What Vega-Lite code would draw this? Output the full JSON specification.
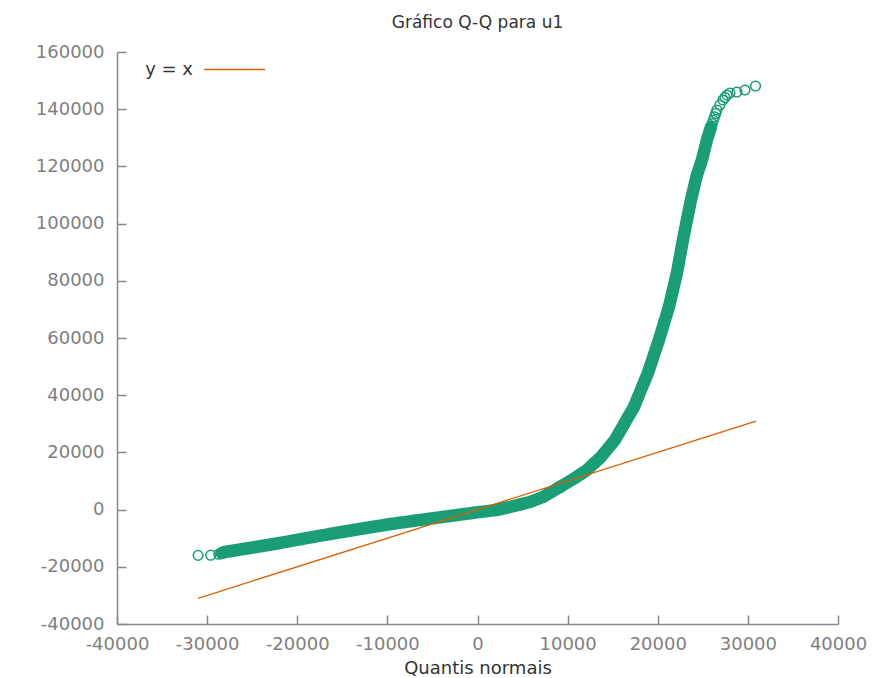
{
  "$schema": "https://vega.github.io/schema/vega-lite/v6.json",
  "width": 721,
  "height": 572,
  "autosize": {"type": "none"},
  "padding": {"left": 117, "top": 52, "right": 37, "bottom": 54},
  "background": "white",
  "title": {"text": "Gráfico Q-Q para u1", "font": "DejaVu Sans", "fontSize": 17, "fontWeight": "normal", "color": "#333333", "anchor": "middle", "frame": "group", "offset": 6},
  "config": {
    "view": {"stroke": null},
    "font": "DejaVu Sans",
    "axis": {
      "grid": false,
      "domainColor": "#888888",
      "domainWidth": 1.5,
      "tickColor": "#888888",
      "tickWidth": 1.5,
      "tickSize": -9,
      "labelColor": "#808080",
      "labelFont": "DejaVu Sans",
      "labelFontSize": 18,
      "labelFlush": false,
      "labelOverlap": false,
      "labelExpr": "'' + datum.value",
      "titleFont": "DejaVu Sans",
      "titleFontSize": 18,
      "titleFontWeight": "normal",
      "titleColor": "#333333"
    },
    "axisX": {"labelPadding": 20, "titlePadding": 6},
    "axisY": {"labelPadding": 22}
  },
  "datasets": {
    "qq": [
      {"q":-31000,"u":-16000},{"q":-29599,"u":-15950},{"q":-28711,"u":-15600},{"q":-28380,"u":-15200},{"q":-28045,"u":-14825},
      {"q":-27698,"u":-14650},{"q":-27351,"u":-14475},{"q":-27004,"u":-14300},{"q":-26657,"u":-14125},{"q":-26310,"u":-13950},{"q":-25964,"u":-13775},{"q":-25617,"u":-13600},{"q":-25270,"u":-13426},
      {"q":-24937,"u":-13251},{"q":-24604,"u":-13076},{"q":-24271,"u":-12901},{"q":-23938,"u":-12727},{"q":-23605,"u":-12552},{"q":-23272,"u":-12377},{"q":-22939,"u":-12202},{"q":-22606,"u":-12027},{"q":-22273,"u":-11853},{"q":-21940,"u":-11678},
      {"q":-21591,"u":-11478},{"q":-21242,"u":-11278},{"q":-20893,"u":-11078},{"q":-20544,"u":-10879},{"q":-20196,"u":-10679},{"q":-19847,"u":-10479},{"q":-19498,"u":-10280},
      {"q":-19153,"u":-10086},{"q":-18807,"u":-9892},{"q":-18462,"u":-9697},{"q":-18117,"u":-9503},{"q":-17772,"u":-9308},{"q":-17426,"u":-9114},{"q":-17081,"u":-8920},{"q":-16735,"u":-8725},{"q":-16390,"u":-8531},
      {"q":-16057,"u":-8356},{"q":-15724,"u":-8181},{"q":-15391,"u":-8006},{"q":-15058,"u":-7832},{"q":-14725,"u":-7657},{"q":-14392,"u":-7482},{"q":-14059,"u":-7307},{"q":-13726,"u":-7132},{"q":-13393,"u":-6958},{"q":-13060,"u":-6783},
      {"q":-12716,"u":-6608},{"q":-12372,"u":-6433},{"q":-12028,"u":-6258},{"q":-11684,"u":-6084},{"q":-11340,"u":-5909},{"q":-10995,"u":-5734},{"q":-10651,"u":-5559},{"q":-10307,"u":-5384},{"q":-9963,"u":-5210},{"q":-9619,"u":-5035},
      {"q":-9297,"u":-4895},{"q":-8975,"u":-4755},{"q":-8653,"u":-4615},{"q":-8331,"u":-4475},{"q":-8010,"u":-4335},{"q":-7688,"u":-4196},{"q":-7366,"u":-4056},{"q":-7044,"u":-3916},{"q":-6722,"u":-3776},{"q":-6400,"u":-3636},
      {"q":-6067,"u":-3496},{"q":-5734,"u":-3356},{"q":-5401,"u":-3216},{"q":-5068,"u":-3076},{"q":-4735,"u":-2937},{"q":-4402,"u":-2797},{"q":-4069,"u":-2657},{"q":-3736,"u":-2517},{"q":-3403,"u":-2377},{"q":-3070,"u":-2238},
      {"q":-2737,"u":-2098},{"q":-2404,"u":-1958},{"q":-2071,"u":-1818},{"q":-1738,"u":-1678},{"q":-1405,"u":-1538},{"q":-1072,"u":-1399},{"q":-739,"u":-1259},{"q":-406,"u":-1119},{"q":-73,"u":-979},{"q":260,"u":-839},
      {"q":575,"u":-722},{"q":889,"u":-606},{"q":1204,"u":-489},{"q":1518,"u":-373},{"q":1833,"u":-256},{"q":2147,"u":-140},
      {"q":2436,"u":70},{"q":2724,"u":280},{"q":3013,"u":489},{"q":3301,"u":699},{"q":3590,"u":909},
      {"q":3907,"u":1159},{"q":4224,"u":1409},{"q":4541,"u":1659},{"q":4859,"u":1908},{"q":5176,"u":2158},{"q":5493,"u":2408},{"q":5810,"u":2657},
      {"q":6099,"u":3007},{"q":6387,"u":3357},{"q":6676,"u":3706},{"q":6964,"u":4056},{"q":7253,"u":4406},
      {"q":7523,"u":4905},{"q":7792,"u":5405},{"q":8062,"u":5904},{"q":8331,"u":6403},{"q":8601,"u":6903},{"q":8870,"u":7403},{"q":9140,"u":7902},
      {"q":9418,"u":8427},{"q":9695,"u":8951},{"q":9973,"u":9476},{"q":10250,"u":10000},{"q":10528,"u":10525},{"q":10805,"u":11049},
      {"q":11071,"u":11608},{"q":11338,"u":12168},{"q":11604,"u":12727},{"q":11871,"u":13287},{"q":12137,"u":13846},
      {"q":12359,"u":14495},{"q":12581,"u":15145},{"q":12803,"u":15794},{"q":13025,"u":16444},{"q":13247,"u":17093},{"q":13469,"u":17743},{"q":13691,"u":18392},
      {"q":13885,"u":19135},{"q":14080,"u":19878},{"q":14274,"u":20621},{"q":14468,"u":21364},{"q":14662,"u":22107},{"q":14857,"u":22850},{"q":15051,"u":23593},{"q":15245,"u":24336},
      {"q":15407,"u":25224},{"q":15570,"u":26111},{"q":15732,"u":26999},{"q":15894,"u":27886},{"q":16056,"u":28774},{"q":16218,"u":29662},{"q":16381,"u":30549},{"q":16543,"u":31437},{"q":16705,"u":32324},{"q":16867,"u":33212},{"q":17030,"u":34099},{"q":17192,"u":34987},{"q":17354,"u":35874},
      {"q":17484,"u":36865},{"q":17613,"u":37856},{"q":17743,"u":38846},{"q":17872,"u":39837},{"q":18002,"u":40828},{"q":18131,"u":41819},{"q":18261,"u":42809},{"q":18390,"u":43800},{"q":18520,"u":44791},{"q":18649,"u":45782},{"q":18779,"u":46772},{"q":18908,"u":47762},
      {"q":19010,"u":48724},{"q":19112,"u":49685},{"q":19213,"u":50647},{"q":19315,"u":51608},{"q":19417,"u":52570},{"q":19519,"u":53532},{"q":19620,"u":54493},{"q":19722,"u":55455},{"q":19824,"u":56416},{"q":19926,"u":57378},{"q":20027,"u":58339},{"q":20129,"u":59301},
      {"q":20222,"u":60263},{"q":20314,"u":61224},{"q":20407,"u":62186},{"q":20499,"u":63147},{"q":20592,"u":64109},{"q":20684,"u":65070},{"q":20777,"u":66032},{"q":20869,"u":66993},{"q":20962,"u":67955},{"q":21054,"u":68916},{"q":21147,"u":69878},{"q":21239,"u":70839},
      {"q":21313,"u":71830},{"q":21387,"u":72821},{"q":21461,"u":73811},{"q":21535,"u":74802},{"q":21609,"u":75793},{"q":21683,"u":76784},{"q":21757,"u":77774},{"q":21831,"u":78765},{"q":21905,"u":79756},{"q":21979,"u":80746},{"q":22053,"u":81737},{"q":22127,"u":82727},
      {"q":22188,"u":83776},{"q":22248,"u":84825},{"q":22309,"u":85874},{"q":22369,"u":86923},{"q":22430,"u":87972},{"q":22490,"u":89021},{"q":22551,"u":90070},{"q":22611,"u":91119},{"q":22672,"u":92168},{"q":22732,"u":93217},{"q":22793,"u":94266},
      {"q":22856,"u":95265},{"q":22920,"u":96264},{"q":22983,"u":97263},{"q":23047,"u":98262},{"q":23110,"u":99261},{"q":23174,"u":100260},{"q":23237,"u":101259},{"q":23300,"u":102258},{"q":23364,"u":103257},{"q":23427,"u":104256},{"q":23491,"u":105255},{"q":23554,"u":106254},{"q":23618,"u":107253},{"q":23681,"u":108252},
      {"q":23755,"u":109223},{"q":23829,"u":110194},{"q":23903,"u":111165},{"q":23977,"u":112136},{"q":24051,"u":113108},{"q":24125,"u":114079},{"q":24199,"u":115050},{"q":24273,"u":116021},{"q":24347,"u":116993},
      {"q":24458,"u":118042},{"q":24569,"u":119091},{"q":24680,"u":120140},{"q":24791,"u":121189},{"q":24902,"u":122238},
      {"q":24995,"u":123403},{"q":25087,"u":124568},{"q":25180,"u":125734},{"q":25272,"u":126899},{"q":25365,"u":128065},{"q":25457,"u":129231},
      {"q":25568,"u":130367},{"q":25679,"u":131503},{"q":25790,"u":132640},{"q":25901,"u":133776},
      {"q":26034,"u":134965},{"q":26167,"u":136154},{"q":26301,"u":137342},{"q":26434,"u":138531},{"q":26567,"u":139720},
      {"q":26900,"u":141500},{"q":27233,"u":143217},{"q":27450,"u":144100},{"q":27677,"u":144965},{"q":28010,"u":145664},{"q":28787,"u":146014},{"q":29675,"u":146713},{"q":30850,"u":148112}
    ],
    "linha": [
      {"q": -31000, "u": -31000, "serie": "y = x"},
      {"q": 30900, "u": 30900, "serie": "y = x"}
    ]
  },
  "layer": [
    {
      "data": {"name": "qq"},
      "transform": [{"filter": {"field": "q", "range": [-28400, 26000]}}],
      "mark": {"type": "line", "strokeWidth": 12.5, "strokeCap": "round", "strokeJoin": "round", "color": "#1b9e77"},
      "encoding": {
        "x": {
          "field": "q", "type": "quantitative",
          "scale": {"domain": [-40000, 40000], "nice": false, "zero": false},
          "axis": {"title": "Quantis normais", "values": [-40000, -30000, -20000, -10000, 0, 10000, 20000, 30000, 40000]}
        },
        "y": {
          "field": "u", "type": "quantitative",
          "scale": {"domain": [-40000, 160000], "nice": false, "zero": false},
          "axis": {"title": null, "values": [-40000, -20000, 0, 20000, 40000, 60000, 80000, 100000, 120000, 140000, 160000]}
        }
      }
    },
    {
      "data": {"name": "qq"},
      "mark": {"type": "point", "shape": "circle", "filled": false, "size": 95, "strokeWidth": 1.5, "color": "#1b9e77", "opacity": 1},
      "encoding": {
        "x": {"field": "q", "type": "quantitative"},
        "y": {"field": "u", "type": "quantitative"}
      }
    },
    {
      "data": {"name": "linha"},
      "mark": {"type": "line", "strokeWidth": 1.3},
      "encoding": {
        "x": {"field": "q", "type": "quantitative"},
        "y": {"field": "u", "type": "quantitative"},
        "color": {
          "field": "serie", "type": "nominal",
          "scale": {"domain": ["y = x"], "range": ["#d95f02"]},
          "legend": {"orient": "none", "legendX": 86, "legendY": -14, "title": null, "padding": 0, "symbolType": "stroke", "symbolSize": 3721, "symbolStrokeWidth": 1.3, "labelAlign": "right", "labelOffset": -73, "labelFontSize": 18, "labelColor": "#333333", "labelFont": "DejaVu Sans"}
        }
      }
    }
  ]
}
